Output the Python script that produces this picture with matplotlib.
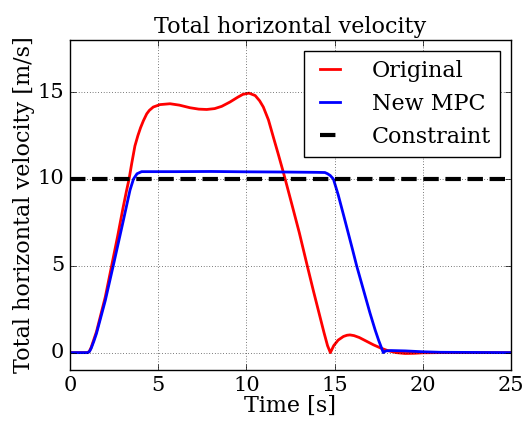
import matplotlib
matplotlib.use("Agg")
import matplotlib.pyplot as plt

plt.style.use('classic')
plt.rcParams['font.family'] = 'DejaVu Serif'
plt.rcParams['lines.scale_dashes'] = True
plt.rcParams['lines.dashed_pattern'] = [3.7, 1.6]

# Original (red)
t_orig = [0, 0.5, 1.0, 1.1, 1.2, 1.35, 1.5, 1.75, 2.0, 2.36, 2.7, 3.0, 3.2, 3.35, 3.5, 3.68,
          3.85, 4.0, 4.16, 4.35, 4.5, 4.72, 5.1, 5.67, 6.2, 6.8, 7.3, 7.75, 8.2, 8.6, 9.07,
          9.5, 9.8, 10.15, 10.5, 10.75, 10.96, 11.25, 11.53, 11.8, 12.09, 12.3, 12.6,
          13.0, 13.45, 13.8, 14.1, 14.4, 14.6, 14.76, 14.95, 15.2, 15.5, 15.7, 15.87,
          16.1, 16.4, 16.8, 17.2, 17.6, 18.0, 18.5, 19.0, 19.5, 20.0, 21.0, 25.0]
v_orig = [0, 0, 0.0, 0.08, 0.3, 0.75, 1.2, 2.2, 3.2, 5.0, 6.7, 8.3, 9.3, 10.0, 10.9, 11.9,
          12.5, 12.95, 13.35, 13.75, 13.95, 14.14, 14.28, 14.33, 14.25, 14.1, 14.02, 14.0,
          14.05, 14.18, 14.43, 14.7, 14.87, 14.94, 14.8, 14.5, 14.14, 13.4, 12.4, 11.45,
          10.4, 9.6, 8.45, 6.9, 5.0, 3.55, 2.35, 1.15, 0.4, 0.0, 0.4, 0.72, 0.93, 1.0, 1.02,
          0.98, 0.87, 0.66, 0.45, 0.27, 0.12, 0.0, -0.05, -0.04, -0.01, 0.0, 0.0]

# New MPC (blue)
t_mpc = [0, 0.5, 1.0, 1.1, 1.2, 1.35, 1.5, 1.75, 2.0, 2.45, 3.0, 3.4, 3.6, 3.8, 4.06, 5.0,
         6.0, 8.0, 10.0, 12.0, 14.0, 14.45, 14.6, 14.75, 14.93, 15.2, 15.5, 16.0, 16.25,
         16.5, 17.0, 17.3, 17.5, 17.65, 17.76, 17.9, 18.2, 19.0, 20.0, 21.0, 25.0]
v_mpc = [0, 0, 0.0, 0.06, 0.25, 0.65, 1.1, 2.05, 3.0, 5.0, 7.5, 9.35, 10.0, 10.3, 10.42,
         10.42, 10.42, 10.43, 10.41, 10.4, 10.38, 10.37, 10.3, 10.2, 10.0, 9.1, 7.95, 6.0,
         5.0, 4.1, 2.3, 1.3, 0.7, 0.3, 0.0, 0.1, 0.12, 0.1, 0.05, 0.02, 0.0]

constraint = 10
xlim = (0, 25)
ylim = (-1, 18)

fig = plt.figure(figsize=(5.28, 4.23), dpi=100)
ax = fig.add_axes([70/528, 1-370/423, (511-70)/528, (370-40)/423])

ax.plot(t_orig, v_orig, color='red', lw=2, label='Original')
ax.plot(t_mpc, v_mpc, color='blue', lw=2, label='New MPC')
ax.axhline(constraint, color='black', lw=3, linestyle='--', label='Constraint')

ax.set_xlim(*xlim)
ax.set_ylim(*ylim)
ax.set_xticks([0, 5, 10, 15, 20, 25])
ax.set_yticks([0, 5, 10, 15])
ax.grid(True)
ax.tick_params(labelsize=15)
ax.set_title('Total horizontal velocity', fontsize=16)
ax.set_xlabel('Time [s]', fontsize=16, labelpad=0)
ax.set_ylabel('Total horizontal velocity [m/s]', fontsize=16, labelpad=2)
ax.legend(loc='upper right', fontsize=16, handlelength=1.5, handletextpad=1.15)

fig.savefig('out.png', dpi=100)
